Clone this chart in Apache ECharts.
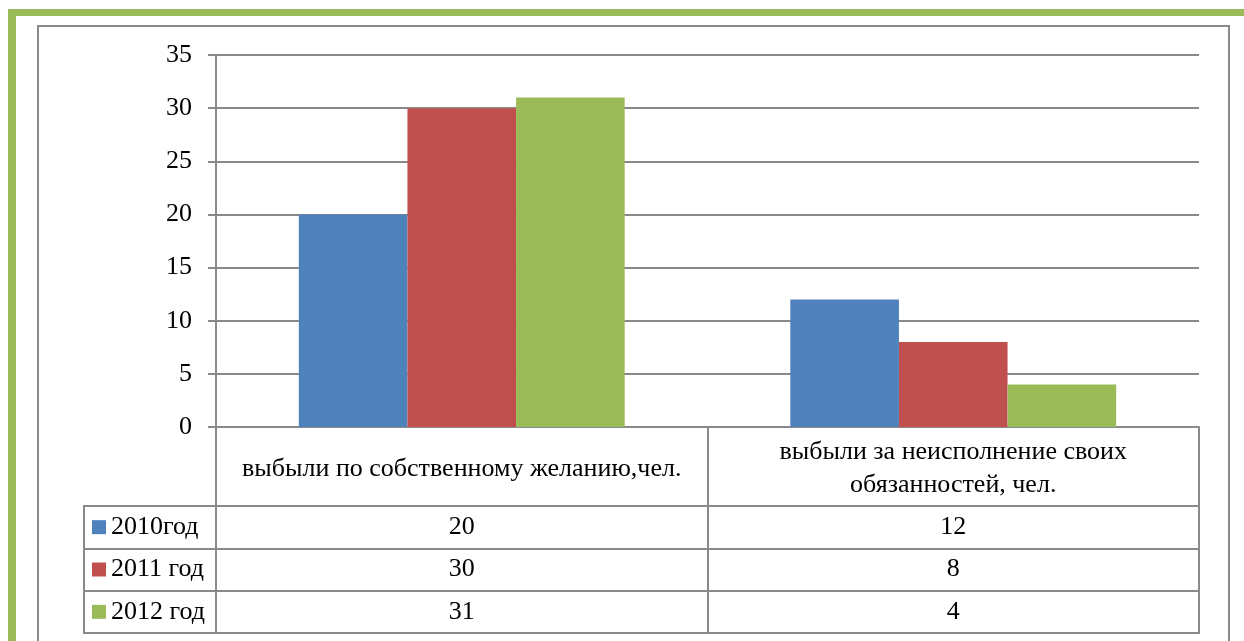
<!DOCTYPE html>
<html>
<head>
<meta charset="utf-8">
<script src="https://cdn.jsdelivr.net/npm/echarts@6/dist/echarts.min.js"></script>
<style>
  html, body { margin: 0; padding: 0; background: #fff; overflow: hidden; }
  #outer { position: absolute; left: 8px; top: 9px; width: 1400px; height: 800px;
           box-sizing: border-box; border-left: 8px solid #9BBB59; border-top: 7px solid #9BBB59; }
  #inner { position: absolute; left: 37px; top: 25px; width: 1193px; height: 800px;
           box-sizing: border-box; border: 2px solid #8a8a8a; }
  #chart { position: absolute; left: 0; top: 0; width: 1244px; height: 641px; }
</style>
</head>
<body>
<div id="outer"></div>
<div id="inner"></div>
<div id="chart"></div>
<script>
// Categories on the x axis
const categories = ['выбыли по собственному желанию,чел.', 'выбыли за неисполнение своих обязанностей, чел.'];
// Series (years) and their values per category
const years = ['2010год', '2011 год', '2012 год'];
const values2010 = [20, 12];
const values2011 = [30, 8];
const values2012 = [31, 4];
const seriesValues = [values2010, values2011, values2012];
const colors = ['#4F81BD', '#C0504D', '#9BBB59'];
// Value axis ticks
const yMin = 0, yMax = 35, yStep = 5;

const FONT = "'Liberation Serif', 'Times New Roman', serif";
const GRAY = '#8a8a8a';
const FS = 26;

// Word-wrap a category name so each line fits into the table cell
const measureCtx = document.createElement('canvas').getContext('2d');
measureCtx.font = FS + 'px ' + FONT;
function wrap(text, maxWidth) {
  const words = text.split(' ');
  const lines = [];
  let line = '';
  words.forEach(w => {
    const test = line ? line + ' ' + w : w;
    if (line && measureCtx.measureText(test).width > maxWidth) {
      lines.push(line);
      line = w;
    } else {
      line = test;
    }
  });
  if (line) lines.push(line);
  return lines.join('\n');
}

const barSeries = years.map((y, i) => ({
  name: y,
  type: 'bar',
  xAxisIndex: 0, yAxisIndex: 0,
  data: seriesValues[i],
  itemStyle: { color: colors[i] },
  barGap: '0%',
  barCategoryGap: '33.7%'
}));

// Data table below the plot: one text cell per (category, year)
const tableSeries = years.map((y, i) => ({
  name: y + ' table',
  type: 'scatter',
  xAxisIndex: 1, yAxisIndex: 1,
  symbolSize: 0,
  itemStyle: { color: '#000', opacity: 1 },
  data: categories.map((c, k) => [c, y, seriesValues[i][k]]),
  label: {
    show: true, position: 'inside', opacity: 1,
    formatter: p => String(p.value[2]),
    fontFamily: FONT, fontSize: FS, color: '#000',
    textBorderWidth: 0
  },
  silent: true
}));

const rich = { t: { fontFamily: FONT, fontSize: FS, color: '#000', padding: [0, 0, 0, 5] } };
colors.forEach((c, i) => { rich['s' + i] = { width: 14, height: 14, backgroundColor: c }; });

const option = {
  backgroundColor: 'transparent',
  animation: false,
  grid: [
    { left: 216, right: 45, top: 55, height: 372 },
    { left: 216, right: 45, top: 506, height: 127, show: true, borderColor: GRAY, borderWidth: 2 },
    { left: 84, width: 132, top: 506, height: 127, show: true, borderColor: GRAY, borderWidth: 2 }
  ],
  xAxis: [
    {
      gridIndex: 0, type: 'category', data: categories,
      axisLine: { lineStyle: { color: GRAY, width: 2 } },
      axisTick: { show: true, interval: 0, length: 79, lineStyle: { color: GRAY, width: 2 } },
      axisLabel: {
        interval: 0, margin: 42, verticalAlign: 'middle', lineHeight: 33,
        formatter: v => wrap(v, 460),
        fontFamily: FONT, fontSize: FS, color: '#000'
      }
    },
    {
      gridIndex: 1, type: 'category', data: categories,
      axisLine: { show: false }, axisTick: { show: false }, axisLabel: { show: false },
      splitLine: { show: true, interval: 0, lineStyle: { color: GRAY, width: 2 } }
    },
    { gridIndex: 2, type: 'value', show: false }
  ],
  yAxis: [
    {
      gridIndex: 0, type: 'value', min: yMin, max: yMax, interval: yStep,
      axisLine: { show: true, lineStyle: { color: GRAY, width: 2 } },
      axisTick: { show: true, length: 8, lineStyle: { color: GRAY, width: 2 } },
      splitLine: { show: true, lineStyle: { color: GRAY, width: 2 } },
      axisLabel: { margin: 24, fontFamily: FONT, fontSize: FS, color: '#000' }
    },
    {
      gridIndex: 1, type: 'category', data: years, inverse: true,
      axisLine: { show: false }, axisTick: { show: false }, axisLabel: { show: false },
      splitLine: { show: true, interval: 0, lineStyle: { color: GRAY, width: 2 } }
    },
    {
      gridIndex: 2, type: 'category', data: years, inverse: true,
      axisLine: { show: false }, axisTick: { show: false },
      splitLine: { show: true, interval: 0, lineStyle: { color: GRAY, width: 2 } },
      axisLabel: {
        inside: true, margin: 8, align: 'left', interval: 0,
        formatter: (v, i) => '{s' + i + '|}{t|' + v + '}',
        rich: rich
      }
    }
  ],
  series: barSeries.concat(tableSeries)
};

const chart = echarts.init(document.getElementById('chart'), null, { renderer: 'canvas' });
chart.setOption(option);
</script>
</body>
</html>
